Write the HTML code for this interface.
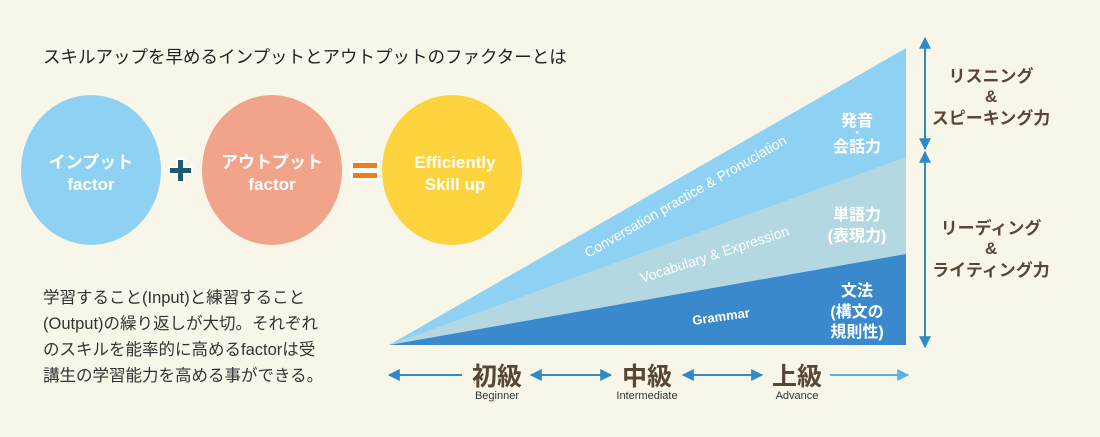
<!DOCTYPE html>
<html><head><meta charset="utf-8"><style>
body{margin:0;background:#f8f6e9;width:1100px;height:437px;overflow:hidden;font-family:"Liberation Sans","Noto Sans CJK JP",sans-serif;}
</style></head><body>
<svg width="1100" height="437" viewBox="0 0 1100 437" xmlns="http://www.w3.org/2000/svg" style="position:absolute;left:0;top:0">
<defs>
<marker id="ah" viewBox="0 0 10 10" refX="9" refY="5" markerWidth="6" markerHeight="6" orient="auto-start-reverse"><path d="M0,0 L10,5 L0,10 z" fill="#2e8ac9"/></marker>
<marker id="ah2" viewBox="0 0 10 10" refX="9" refY="5" markerWidth="6" markerHeight="6" orient="auto-start-reverse"><path d="M0,0 L10,5 L0,10 z" fill="#5ab4e0"/></marker>
</defs>
<g font-family="Liberation Sans, Noto Sans CJK JP, sans-serif">
<text x="43" y="63" font-size="17.5" fill="#222">スキルアップを早めるインプットとアウトプットのファクターとは</text>
<ellipse cx="91" cy="170" rx="70" ry="75" fill="#8fd1f3"/>
<ellipse cx="272" cy="170" rx="70" ry="75" fill="#f2a48b"/>
<ellipse cx="452" cy="170" rx="70" ry="75" fill="#fdd33e"/>
<g fill="#fff" font-weight="bold" font-size="17" text-anchor="middle">
<text x="91" y="168">インプット</text><text x="91" y="190">factor</text>
<text x="272" y="168">アウトプット</text><text x="272" y="190">factor</text>
<text x="455" y="168">Efficiently</text><text x="455" y="190">Skill up</text>
</g>
<rect x="168" y="166" width="25" height="9" fill="#fff"/><rect x="176" y="158" width="9" height="25" fill="#fff"/>
<rect x="170" y="168" width="21" height="5" fill="#1f5b6e"/><rect x="178" y="160" width="5" height="21" fill="#1f5b6e"/>
<rect x="350" y="161" width="29" height="20" fill="#fff"/>
<rect x="353" y="163" width="24" height="5" fill="#ef7d14"/><rect x="353" y="173" width="24" height="5" fill="#ef7d14"/>
<g font-size="16.5" fill="#333">
<text x="43" y="303">学習すること(Input)と練習すること</text>
<text x="43" y="329">(Output)の繰り返しが大切。それぞれ</text>
<text x="43" y="355">のスキルを能率的に高めるfactorは受</text>
<text x="43" y="381">講生の学習能力を高める事ができる。</text>
</g>
<polygon points="389,345 906,48 906,345" fill="#8fd1f3"/>
<polygon points="389,345 906,157 906,345" fill="#b3d8e2"/>
<polygon points="389,345 906,254 906,345" fill="#3a89cc"/>
<g fill="#fff" font-size="14">
<text transform="translate(588,258) rotate(-29.9)">Conversation practice &amp; Pronuciation</text>
<text transform="translate(642,283) rotate(-18)">Vocabulary &amp; Expression</text>
<text transform="translate(693,325) rotate(-8)" font-size="13" font-weight="bold">Grammar</text>
</g>
<g fill="#fff" font-size="16" font-weight="bold" text-anchor="middle">
<text x="857" y="126">発音</text><text x="857" y="136" font-size="10">・</text><text x="857" y="152">会話力</text>
<text x="857" y="220">単語力</text><text x="857" y="241">(表現力)</text>
<text x="857" y="296">文法</text><text x="857" y="317">(構文の</text><text x="857" y="337">規則性)</text>
</g>
<line x1="925" y1="38" x2="925" y2="149" stroke="#2e8ac9" stroke-width="2" marker-start="url(#ah)" marker-end="url(#ah)"/>
<line x1="925" y1="152" x2="925" y2="347" stroke="#2e8ac9" stroke-width="2" marker-start="url(#ah)" marker-end="url(#ah)"/>
<g fill="#5a4636" font-size="17" font-weight="bold" text-anchor="middle">
<text x="991" y="82">リスニング</text><text x="991" y="102">&amp;</text><text x="991" y="124">スピーキング力</text>
<text x="991" y="234">リーディング</text><text x="991" y="254">&amp;</text><text x="991" y="276">ライティング力</text>
</g>
<line x1="389" y1="375" x2="462" y2="375" stroke="#2e8ac9" stroke-width="2" marker-start="url(#ah)"/>
<line x1="531" y1="375" x2="611" y2="375" stroke="#2e8ac9" stroke-width="2" marker-start="url(#ah)" marker-end="url(#ah)"/>
<line x1="683" y1="375" x2="762" y2="375" stroke="#2e8ac9" stroke-width="2" marker-start="url(#ah)" marker-end="url(#ah)"/>
<line x1="830" y1="375" x2="908" y2="375" stroke="#5ab4e0" stroke-width="2" marker-end="url(#ah2)"/>
<g fill="#5a4636" font-size="25" font-weight="bold" text-anchor="middle">
<text x="497" y="385">初級</text><text x="647" y="385">中級</text><text x="797" y="385">上級</text>
</g>
<g fill="#333" font-size="11" text-anchor="middle">
<text x="497" y="399">Beginner</text><text x="647" y="399">Intermediate</text><text x="797" y="399">Advance</text>
</g>
</g>
</svg>
</body></html>
